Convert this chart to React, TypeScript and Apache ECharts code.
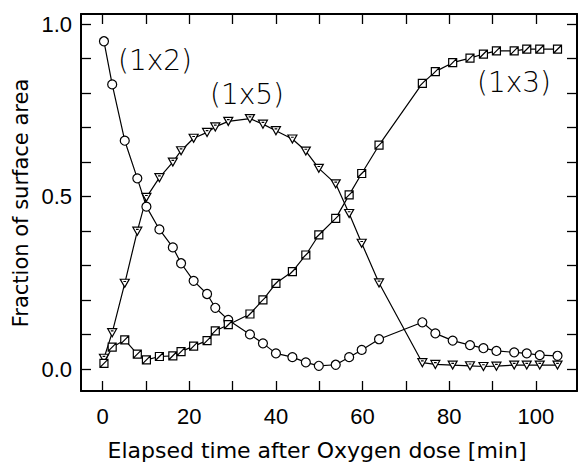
import React, { useEffect, useRef } from "react";
import * as echarts from "echarts";

const times = [0.3, 2.2, 5.1, 8.0, 10.1, 13.1, 16.2, 18.1, 21.0, 24.1, 26.0, 29.0, 34.0, 37.0, 40.0, 43.8, 46.9, 49.9, 53.8, 56.9, 59.8, 63.8, 73.8, 76.8, 80.8, 84.8, 87.9, 90.9, 95.0, 97.9, 100.9, 105.0];

const phase1x2 = [0.950, 0.825, 0.662, 0.553, 0.471, 0.405, 0.353, 0.307, 0.256, 0.218, 0.178, 0.143, 0.101, 0.075, 0.046, 0.035, 0.020, 0.010, 0.013, 0.035, 0.056, 0.087, 0.136, 0.104, 0.083, 0.070, 0.061, 0.053, 0.049, 0.046, 0.041, 0.039];
const phase1x5 = [0.032, 0.106, 0.249, 0.400, 0.498, 0.555, 0.600, 0.633, 0.669, 0.686, 0.702, 0.718, 0.726, 0.710, 0.691, 0.667, 0.632, 0.582, 0.537, 0.451, 0.365, 0.250, 0.019, 0.014, 0.012, 0.010, 0.008, 0.009, 0.012, 0.012, 0.012, 0.012];
const phase1x3 = [0.017, 0.064, 0.085, 0.044, 0.027, 0.037, 0.039, 0.051, 0.067, 0.083, 0.111, 0.129, 0.160, 0.201, 0.249, 0.283, 0.331, 0.389, 0.437, 0.505, 0.567, 0.649, 0.828, 0.862, 0.888, 0.901, 0.913, 0.922, 0.922, 0.927, 0.927, 0.927];

const xTicks = [0, 10, 20, 30, 40, 50, 60, 70, 80, 90, 100];
const xLabels = [0, 20, 40, 60, 80, 100];
const yTicks = [0, 0.1, 0.2, 0.3, 0.4, 0.5, 0.6, 0.7, 0.8, 0.9, 1.0];
const yLabels = [0, 0.5, 1.0];

const seriesLabels = ["(1x2)", "(1x5)", "(1x3)"];
const xTitle = "Elapsed time after Oxygen dose [min]";
const yTitle = "Fraction of surface area";

const FONT = "Liberation Sans";
const WIDE = "DejaVu Sans";

export default function App() {
  const ref = useRef<HTMLDivElement>(null);
  useEffect(() => {
    document.body.style.margin = "0";
    if (!ref.current) return;
    const chart = echarts.init(ref.current, undefined, { renderer: "svg" });
    const axisLine = { show: true, onZero: false, lineStyle: { color: "#000", width: 2 } };
    const mkX = (pos: string, showLabel: boolean) => ({
      type: "value",
      position: pos,
      min: -5,
      max: 109.5,
      axisLine,
      axisTick: { show: true, inside: true, length: 10, customValues: xTicks, lineStyle: { color: "#000", width: 1.3 } },
      axisLabel: {
        show: showLabel,
        customValues: xLabels,
        fontSize: 22,
        color: "#000",
        margin: 14,
        fontFamily: FONT,
      },
      splitLine: { show: false },
    });
    const mkY = (pos: string, showLabel: boolean) => ({
      type: "value",
      position: pos,
      min: -0.063,
      max: 1.029,
      axisLine,
      axisTick: { show: true, inside: true, length: 10, customValues: yTicks, lineStyle: { color: "#000", width: 1.3 } },
      axisLabel: {
        show: showLabel,
        customValues: yLabels,
        fontSize: 22,
        color: "#000",
        margin: 9,
        fontFamily: FONT,
        formatter: (v: number) => v.toFixed(1),
      },
      splitLine: { show: false },
    });
    const mkSeries = (vals: number[], symbol: string, size: number | number[]) => ({
      type: "line",
      xAxisIndex: 0,
      yAxisIndex: 0,
      data: times.map((t, i) => [t, vals[i]]),
      symbol,
      symbolSize: size,
      showAllSymbol: true,
      lineStyle: { color: "#000", width: 1.2 },
      itemStyle: { color: "#fff", borderColor: "#000", borderWidth: 1.2 },
      emphasis: { disabled: true },
    });
    const lbl = `200 28px "${WIDE}"`;
    chart.setOption({
      animation: false,
      backgroundColor: "#fff",
      grid: { left: 81, right: 2, top: 14, bottom: 75, containLabel: false },
      xAxis: [mkX("bottom", true), mkX("top", false)],
      yAxis: [mkY("left", true), mkY("right", false)],
      series: [
        mkSeries(phase1x2, "circle", 9),
        mkSeries(phase1x5, "path://M0,0L10,0L5,9Z M3.5,2.5L6.5,2.5", [9, 8]),
        mkSeries(phase1x3, "path://M0,0L10,0L10,10L0,10Z M0,10L10,0", 8),
      ],
      graphic: [
        { type: "text", x: 118, y: 60, style: { text: seriesLabels[0], font: lbl, fill: "#000", verticalAlign: "middle", align: "left" } },
        { type: "text", x: 210, y: 94, style: { text: seriesLabels[1], font: lbl, fill: "#000", verticalAlign: "middle", align: "left" } },
        { type: "text", x: 477, y: 82, style: { text: seriesLabels[2], font: lbl, fill: "#000", verticalAlign: "middle", align: "left" } },
        { type: "text", x: 317, y: 450, style: { text: xTitle, font: `22px "${WIDE}"`, fill: "#000", verticalAlign: "middle", align: "center" } },
        { type: "text", x: 21, y: 203, rotation: Math.PI / 2, style: { text: yTitle, font: `21px "${WIDE}"`, fill: "#000", verticalAlign: "middle", align: "center" } },
      ],
    });
    return () => chart.dispose();
  }, []);
  return <div ref={ref} style={{ width: 579, height: 466 }} />;
}
